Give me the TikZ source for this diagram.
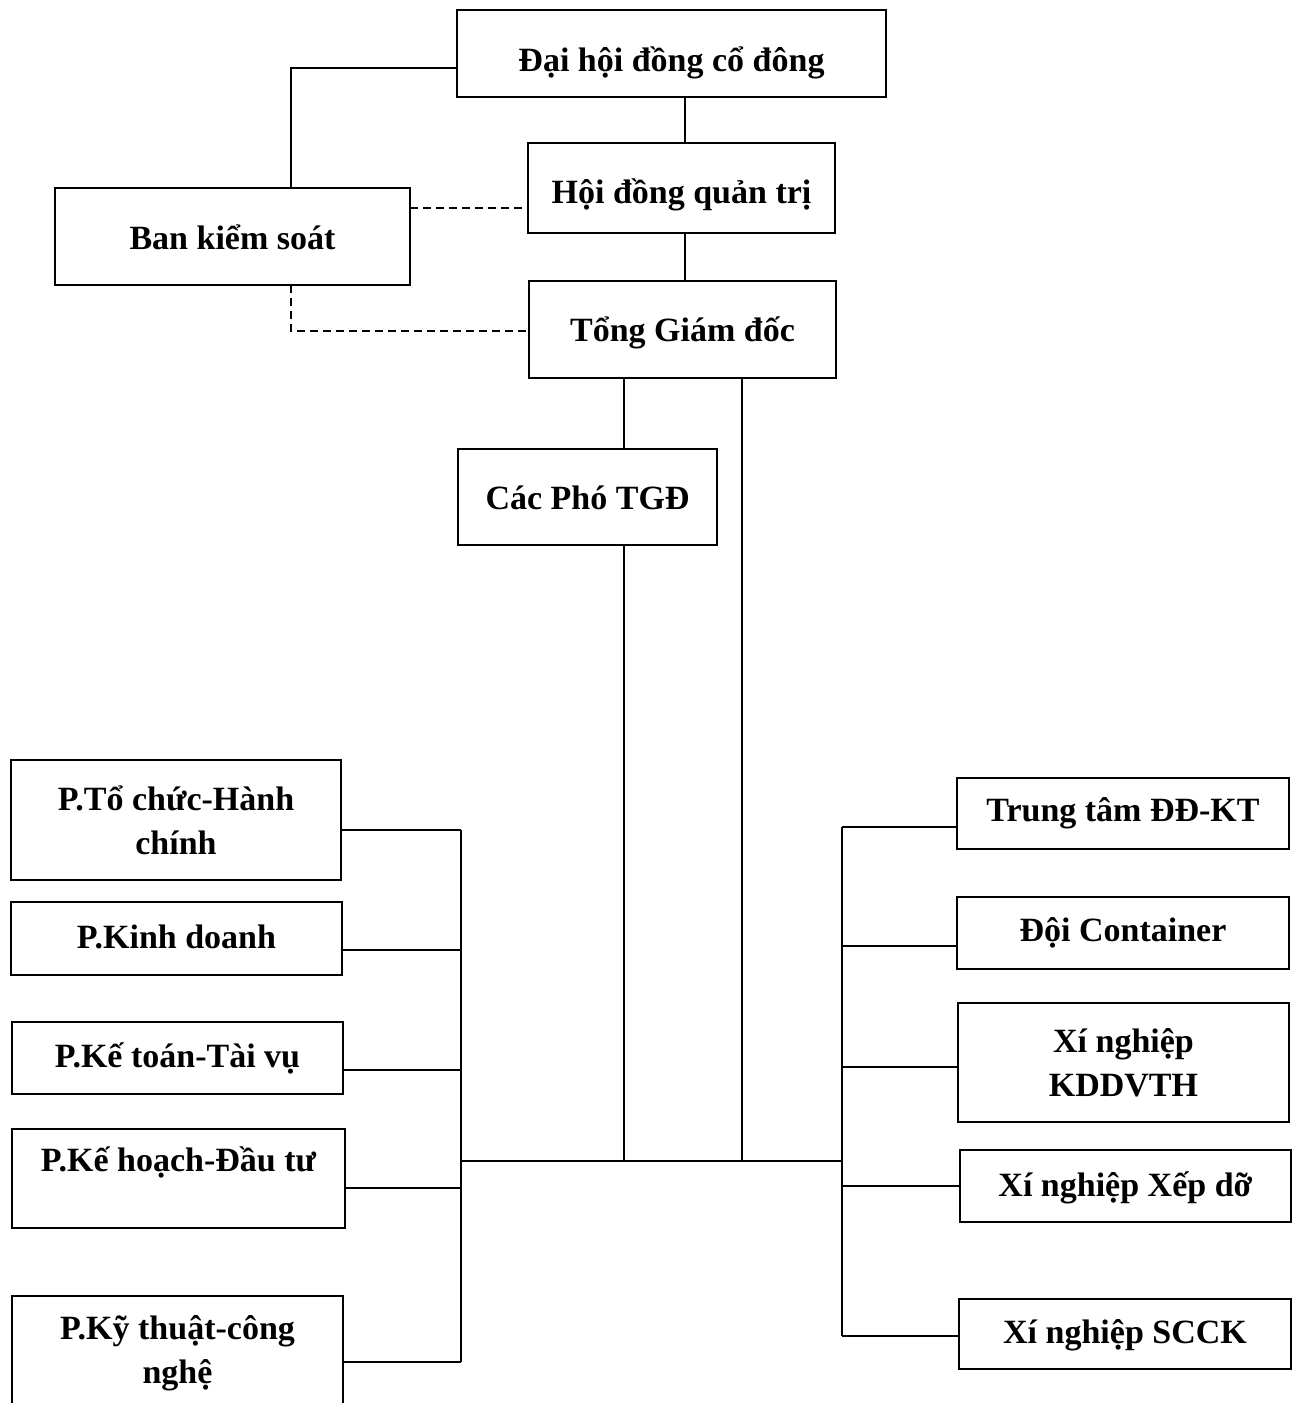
\documentclass[tikz,border=0pt]{standalone}
\usepackage{fontspec}
\setmainfont{Liberation Serif}
\begin{document}
\begin{tikzpicture}[x=0.5pt,y=-0.5pt,
  box/.style={draw=black,line width=1pt,rectangle,inner sep=0pt,outer sep=0pt,align=center,
    font=\fontsize{17}{22}\selectfont\bfseries},
  one/.style={text height=#1,text depth=4pt},
  one/.default=12pt,
  link/.style={line width=1pt,black},
  dlink/.style={line width=1pt,black,dash pattern=on 4pt off 2.5pt}]
\path[use as bounding box] (0,0) rectangle (1297,1403);
\clip (0,0) rectangle (1297,1403);

% top part
\node[box,one=22pt,minimum width=214.5pt,minimum height=43.5pt] (dh) at (671.5,53.5) {Đại hội đồng cổ đông};
\node[box,one=19pt,minimum width=153.5pt,minimum height=45pt] (hd) at (681.5,188) {Hội đồng quản trị};
\node[box,one=17pt,minimum width=177.5pt,minimum height=48.5pt] (bks) at (232.5,236.5) {Ban kiểm soát};
\node[box,one=16pt,minimum width=153.5pt,minimum height=48.5pt] (tgd) at (682.5,329.5) {Tổng Giám đốc};
\node[box,one=16pt,minimum width=129.5pt,minimum height=48pt] (cp) at (587.5,497) {Các Phó TGĐ};

% left departments
\node[box,minimum width=165pt,minimum height=60pt] (tc) at (176,820) {P.Tổ chức-Hành\\chính};
\node[box,one=14pt,minimum width=165.5pt,minimum height=36.5pt] (kd) at (176.5,938.5) {P.Kinh doanh};
\node[box,one=13pt,minimum width=165.5pt,minimum height=36pt] (kt) at (177.5,1058) {P.Kế toán-Tài vụ};
\node[box,one=15pt,text depth=22pt,minimum width=166.5pt,minimum height=49.5pt] (kh) at (178.5,1178.5) {P.Kế hoạch-Đầu tư};
\node[box,minimum width=165.5pt,minimum height=57pt] (kyt) at (177.5,1353) {P.Kỹ thuật-công\\nghệ};

% right units
\node[box,one=14pt,text depth=6pt,minimum width=166pt,minimum height=35.5pt] (tt) at (1123,813.5) {Trung tâm ĐĐ-KT};
\node[box,one=14pt,text depth=6pt,minimum width=166pt,minimum height=36pt] (dc) at (1123,933) {Đội Container};
\node[box,minimum width=165.5pt,minimum height=59.5pt] (xn) at (1123.5,1062.5) {Xí nghiệp\\KDDVTH};
\node[box,one=14pt,minimum width=165.5pt,minimum height=36pt] (xd) at (1125.5,1186) {Xí nghiệp Xếp dỡ};
\node[box,one=13pt,minimum width=166pt,minimum height=35pt] (sc) at (1125,1334) {Xí nghiệp SCCK};

% helper coordinates
\coordinate (a1) at (291,68);
\coordinate (v1) at (685,0);
\coordinate (d1) at (0,208);
\coordinate (d2) at (291,331);
\coordinate (v2) at (624,0);
\coordinate (v3) at (742,0);
\coordinate (hb) at (0,1161);
\coordinate (lb) at (461,0);
\coordinate (rb) at (842,0);

% top connectors
\draw[link] (a1 |- bks.north) -- (a1) -- (a1 -| dh.west);
\draw[link] (v1 |- dh.south) -- (v1 |- hd.north);
\draw[link] (v1 |- hd.south) -- (v1 |- tgd.north);
\draw[dlink] (d1 -| bks.east) -- (d1 -| hd.west);
\draw[dlink] (d2 |- bks.south) -- (d2) -- (d2 -| tgd.west);
\draw[link] (v2 |- tgd.south) -- (v2 |- cp.north);
\draw[link] (v2 |- cp.south) -- (v2 |- hb);
\draw[link] (v3 |- tgd.south) -- (v3 |- hb);
\draw[link] (lb |- hb) -- (rb |- hb);

% left bus
\coordinate (l1) at (461,830);
\coordinate (l2) at (461,950);
\coordinate (l3) at (461,1070);
\coordinate (l4) at (461,1188);
\coordinate (l5) at (461,1362);
\draw[link] (l1) -- (l5);
\draw[link] (l1 -| tc.east) -- (l1);
\draw[link] (l2 -| kd.east) -- (l2);
\draw[link] (l3 -| kt.east) -- (l3);
\draw[link] (l4 -| kh.east) -- (l4);
\draw[link] (l5 -| kyt.east) -- (l5);

% right bus
\coordinate (r1) at (842,827);
\coordinate (r2) at (842,946);
\coordinate (r3) at (842,1067);
\coordinate (r4) at (842,1186);
\coordinate (r5) at (842,1336);
\draw[link] (r1) -- (r5);
\draw[link] (r1) -- (r1 -| tt.west);
\draw[link] (r2) -- (r2 -| dc.west);
\draw[link] (r3) -- (r3 -| xn.west);
\draw[link] (r4) -- (r4 -| xd.west);
\draw[link] (r5) -- (r5 -| sc.west);
\end{tikzpicture}
\end{document}
